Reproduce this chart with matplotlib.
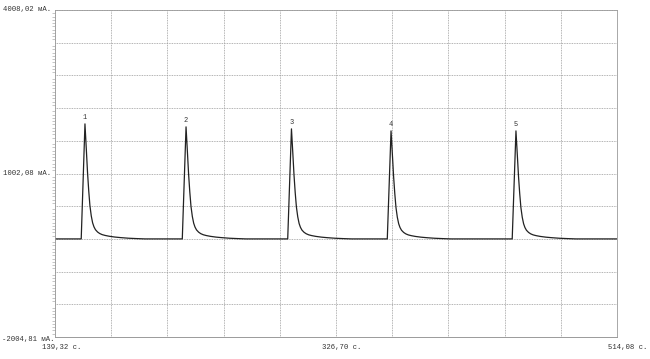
import matplotlib.pyplot as plt
import numpy as np

# axis limits as printed on the chart
x_min, x_max = 139.32, 514.08
y_min, y_max = -2004.81, 4008.02

baseline = -201.0
peak_times = [159.3, 226.7, 297.0, 363.4, 446.7]
peak_tops = [1914, 1859, 1822, 1785, 1785]
peak_labels = ['1', '2', '3', '4', '5']

# peak shape read from peak 1: seconds from apex, fraction of height
shape_dt = [-2.5, 0, 0.9, 1.7, 2.5, 3.3, 4.2, 5.1, 6.0, 7.0, 8.4, 9.8,
            11.5, 13.5, 16.2, 20, 24, 29, 34, 40]
shape_frac = [0, 1, 0.78, 0.58, 0.42, 0.29, 0.2, 0.14, 0.105, 0.08, 0.06,
              0.047, 0.037, 0.03, 0.023, 0.016, 0.011, 0.006, 0.003, 0]

x = [x_min]
y = [baseline]
for t, top in zip(peak_times, peak_tops):
    for dt, fr in zip(shape_dt, shape_frac):
        x.append(t + dt)
        y.append(baseline + (top - baseline) * fr)
x.append(x_max)
y.append(baseline)

fig = plt.figure(figsize=(6.5, 3.59), dpi=100)
ax = fig.add_axes([55 / 650, 22 / 359, 562 / 650, 327 / 359])

ax.plot(x, y, color='#222222', lw=0.9)

for t, top, lab in zip(peak_times, peak_tops, peak_labels):
    ax.text(t, top + 60, lab, ha='center', va='bottom',
            fontsize=5, family='Liberation Mono', color='#333333')

ax.set_xlim(x_min, x_max)
ax.set_ylim(y_min, y_max)
ax.set_xticks(np.linspace(x_min, x_max, 11))
ax.set_yticks(np.linspace(y_min, y_max, 11))
ax.set_yticks(np.linspace(y_min, y_max, 101), minor=True)
ax.tick_params(which='major', length=0, labelbottom=False, labelleft=False)
ax.tick_params(which='minor', axis='y', length=2, width=0.4, color='#999999')
ax.grid(True, which='major', color='#9a9a9a', lw=0.6, linestyle=(0, (1, 1)))
for side in ['top', 'right', 'left']:
    ax.spines[side].set_color('#9a9a9a')
    ax.spines[side].set_linewidth(0.6)
    ax.spines[side].set_linestyle((0, (1, 1)))
ax.spines['bottom'].set_color('#9a9a9a')
ax.spines['bottom'].set_linewidth(0.7)

fs = dict(fontsize=5.2, family='Liberation Mono', color='#333333')
fig.text(51 / 650, 1 - 10 / 359, '4008,02 мА.', ha='right', va='center', **fs)
fig.text(51 / 650, 1 - 174 / 359, '1002,08 мА.', ha='right', va='center', **fs)
fig.text(55 / 650, 1 - 340 / 359, '-2004,81 мА.', ha='right', va='center', **fs)
fig.text(62 / 650, 1 - 348 / 359, '139,32 с.', ha='center', va='center', **fs)
fig.text(342 / 650, 1 - 348 / 359, '326,70 с.', ha='center', va='center', **fs)
fig.text(647 / 650, 1 - 348 / 359, '514,08 с.', ha='right', va='center', **fs)

fig.savefig('out.png', dpi=100)
